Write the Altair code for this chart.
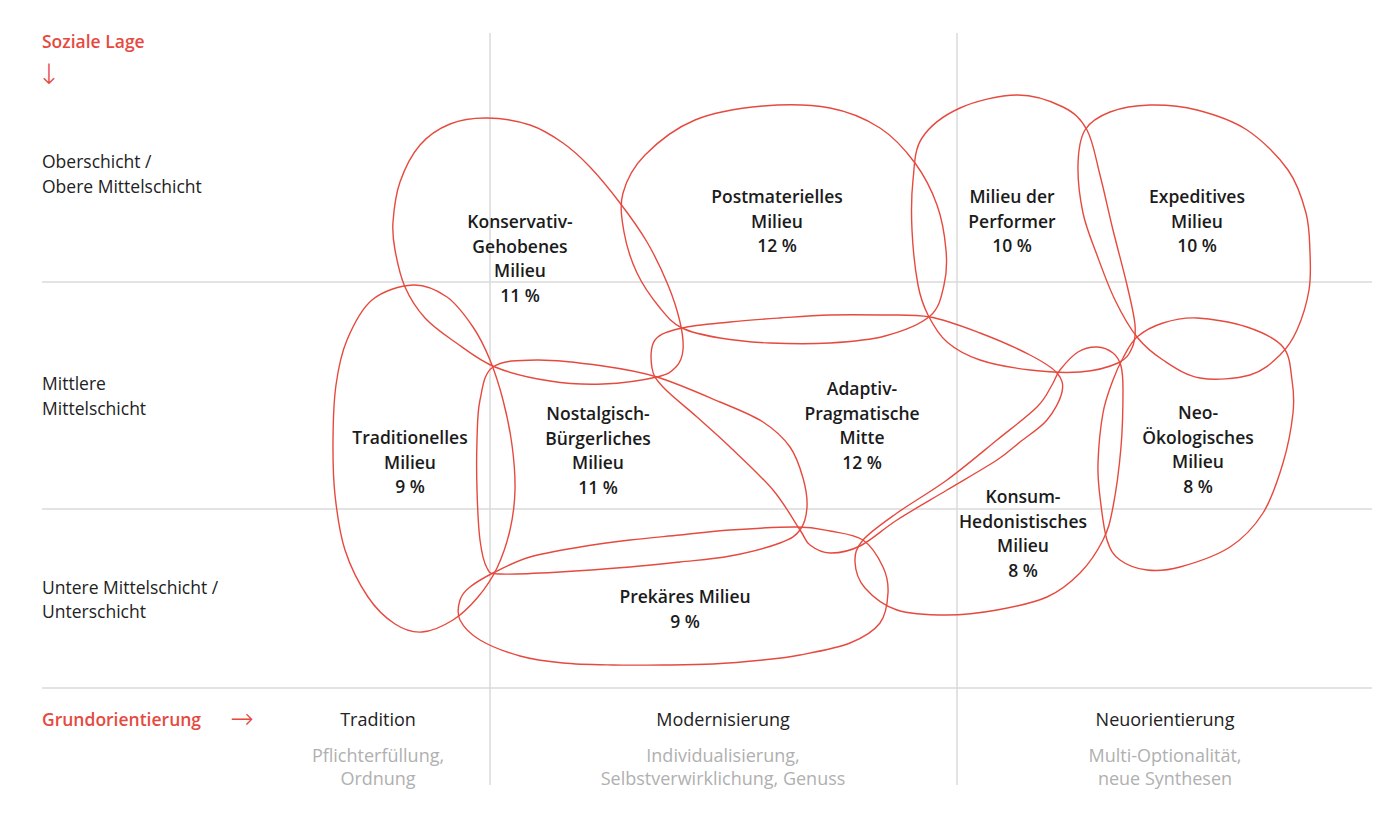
import altair as alt
import pandas as pd

RED = "#e64a3f"
GRID = "#dadada"
FONT = "Open Sans"
ARROW_FONT = "DejaVu Sans"

# ---- Milieu outlines (readings in the reference's coordinate frame) ----
konservativ = [(487,118),(530,125),(563,143),(590,167),(620,203),(647,242),(668,285),(680,322),
               (683,350),(676,367),(657,377),(603,384),(550,381),(495,367),(455,342),(425,318),
               (405,287),(395,250),(393,222),(400,182),(420,145),(450,124)]
postmateriell = [(763,106),(830,108),(880,128),(915,163),(937,205),(946,250),(944,285),(930,316),
                 (885,336),(830,343),(770,343),(720,338),(682,328),(660,308),(637,273),(624,232),
                 (623,193),(645,155),(695,120)]
performer = [(1017,95),(1063,107),(1087,130),(1100,175),(1113,230),(1127,285),(1135,325),(1132,348),
             (1118,363),(1080,372),(1030,370),(980,360),(947,342),(928,315),(918,285),(912,230),
             (913,180),(922,138),(960,108)]
expeditiv = [(1150,105),(1197,110),(1247,130),(1288,170),(1306,213),(1310,253),(1309,290),(1297,330),
             (1280,355),(1250,375),(1200,378),(1163,360),(1137,337),(1115,300),(1097,255),(1083,213),
             (1078,165),(1085,130),(1110,112)]
traditionell = [(413,285),(447,297),(473,327),(490,360),(503,400),(512,445),(515,490),(510,530),
                (497,568),(478,597),(453,620),(422,632),(395,624),(368,597),(345,550),(335,495),
                (333,440),(336,385),(347,340),(372,300)]
nostalgisch = [(493,367),(537,360),(603,366),(657,377),(720,402),(763,422),(790,447),(803,478),
               (807,507),(800,530),(780,543),(730,556),(680,562),(630,567),(560,572),(500,574),
               (487,568),(480,540),(477,490),(477,440),(480,400)]
adaptiv = [(655,340),(682,328),(730,322),(780,318),(830,315),(880,315),(930,317),(980,333),
           (1030,355),(1057,373),(1062,392),(1047,420),(1020,442),(997,460),(947,490),(897,520),
           (860,546),(830,553),(810,545),(800,530),(773,490),(730,447),(697,417),(663,387),(652,368)]
konsum = [(1060,370),(1078,352),(1097,347),(1113,353),(1121,366),(1123,390),(1121,447),(1113,507),
          (1103,540),(1080,573),(1047,597),(997,610),(947,615),(897,610),(865,588),(855,562),
          (863,540),(897,513),(947,480),(997,440),(1037,407),(1052,385)]
neooeko = [(1197,318),(1247,327),(1283,347),(1292,380),(1293,413),(1283,463),(1263,513),(1230,547),
           (1180,567),(1147,570),(1120,560),(1107,540),(1100,497),(1098,463),(1103,413),(1113,380),
           (1123,358),(1137,337),(1163,323)]
prekaer = [(470,587),(495,572),(530,557),(580,547),(630,540),(680,535),(730,530),(797,527),
           (830,531),(863,540),(883,567),(888,593),(880,623),(850,643),(800,655),(763,660),
           (713,664),(663,665),(613,665),(563,663),(520,656),(480,640),(460,620),(460,600)]

outlines = {
    "Konservativ-Gehobenes": konservativ, "Postmateriell": postmateriell,
    "Performer": performer, "Expeditiv": expeditiv, "Traditionell": traditionell,
    "Nostalgisch-Bürgerlich": nostalgisch, "Adaptiv-Pragmatisch": adaptiv,
    "Konsum-Hedonistisch": konsum, "Neo-Ökologisch": neooeko, "Prekär": prekaer,
}

# ---- Milieu labels: lines, centre x, first-line y ----
milieu_lines = [
    ["Konservativ-", "Gehobenes", "Milieu", "11 %"],
    ["Postmaterielles", "Milieu", "12 %"],
    ["Milieu der", "Performer", "10 %"],
    ["Expeditives", "Milieu", "10 %"],
    ["Traditionelles", "Milieu", "9 %"],
    ["Nostalgisch-", "Bürgerliches", "Milieu", "11 %"],
    ["Adaptiv-", "Pragmatische", "Mitte", "12 %"],
    ["Neo-", "Ökologisches", "Milieu", "8 %"],
    ["Konsum-", "Hedonistisches", "Milieu", "8 %"],
    ["Prekäres Milieu", "9 %"],
]
milieu_x = [520, 777, 1012, 1197, 410, 598, 862, 1198, 1023, 685]
milieu_y = [223, 198, 198, 198, 439, 415, 390, 414, 498, 598]

# ---- Axis texts ----
row_labels = ["Oberschicht /", "Obere Mittelschicht", "Mittlere", "Mittelschicht",
              "Untere Mittelschicht /", "Unterschicht"]
row_label_y = [163, 188, 385, 410, 589, 613]
col_heads = ["Tradition", "Modernisierung", "Neuorientierung"]
col_head_x = [378, 723, 1165]
col_desc = [["Pflichterfüllung,", "Ordnung"],
            ["Individualisierung,", "Selbstverwirklichung, Genuss"],
            ["Multi-Optionalität,", "neue Synthesen"]]
row_bounds = [282, 509]
base_line = [688]
col_bounds = [490, 957]

LH = 24.5
FS = 17.5
xs = alt.Scale(domain=[8, 1390], nice=False, zero=False)
ys = alt.Scale(domain=[8, 815], nice=False, zero=False, reverse=True)

def X(f="x"):
    return alt.X(f"{f}:Q", scale=xs, axis=None)

def Y(f="y"):
    return alt.Y(f"{f}:Q", scale=ys, axis=None)

# data frames
blob_rows = []
for name, pts in outlines.items():
    for i, (px, py) in enumerate(pts):
        blob_rows.append({"milieu": name, "idx": i, "x": px, "y": py})
blobs = pd.DataFrame(blob_rows)

lab_rows = []
for lines, cx, cy in zip(milieu_lines, milieu_x, milieu_y):
    for i, t in enumerate(lines):
        lab_rows.append({"x": cx, "y": cy + i * LH, "t": t})
labels = pd.DataFrame(lab_rows)

hlines = pd.DataFrame({"y": row_bounds + base_line, "x": 42, "x2": 1372})
vlines = pd.DataFrame({"x": col_bounds, "y": 33, "y2": 785})

rows_df = pd.DataFrame({"x": 42, "y": row_label_y, "t": row_labels})
heads_df = pd.DataFrame({"x": col_head_x, "y": 721, "t": col_heads})
desc_rows = []
for cx, lines in zip(col_head_x, col_desc):
    for i, t in enumerate(lines):
        desc_rows.append({"x": cx, "y": 757 + i * 22.5, "t": t})
desc_df = pd.DataFrame(desc_rows)
red_left = pd.DataFrame({"x": [42, 42], "y": [43, 721],
                         "t": ["Soziale Lage", "Grundorientierung"]})
arrows = pd.DataFrame({"x": [49, 242], "y": [76, 720], "t": ["↓", "→"]})

hl = alt.Chart(hlines).mark_rule(color=GRID, strokeWidth=1.5).encode(x=X(), x2="x2:Q", y=Y())
vl = alt.Chart(vlines).mark_rule(color=GRID, strokeWidth=1.5).encode(x=X(), y=Y(), y2="y2:Q")

lines_layer = alt.Chart(blobs).mark_line(
    interpolate="cardinal-closed", color=RED, strokeWidth=1.4
).encode(x=X(), y=Y(), detail="milieu:N", order="idx:Q")

lab_layer = alt.Chart(labels).mark_text(
    font=FONT, fontSize=FS, fontWeight=600, color="#1b1b1b", align="center", baseline="middle"
).encode(x=X(), y=Y(), text="t:N")

rows_layer = alt.Chart(rows_df).mark_text(
    font=FONT, fontSize=FS, color="#222222", align="left", baseline="middle"
).encode(x=X(), y=Y(), text="t:N")

heads_layer = alt.Chart(heads_df).mark_text(
    font=FONT, fontSize=18, color="#222222", align="center", baseline="middle"
).encode(x=X(), y=Y(), text="t:N")

desc_layer = alt.Chart(desc_df).mark_text(
    font=FONT, fontSize=18, color="#b0b0b0", align="center", baseline="middle"
).encode(x=X(), y=Y(), text="t:N")

red_layer = alt.Chart(red_left).mark_text(
    font=FONT, fontSize=FS, fontWeight=600, color=RED, align="left", baseline="middle"
).encode(x=X(), y=Y(), text="t:N")

arrow_layer = alt.Chart(arrows).mark_text(
    font=ARROW_FONT, fontSize=28, fontWeight=200, color=RED, align="center", baseline="middle"
).encode(x=X(), y=Y(), text="t:N")

chart = alt.layer(
    hl, vl, lines_layer, lab_layer, rows_layer, heads_layer, desc_layer, red_layer, arrow_layer
).properties(
    width=1382, height=807, padding=0,
    autosize=alt.AutoSizeParams(type="none"),
    background="white",
).configure_view(strokeWidth=0)

chart.save("out.html", embed_options={"renderer": "svg", "actions": False})
